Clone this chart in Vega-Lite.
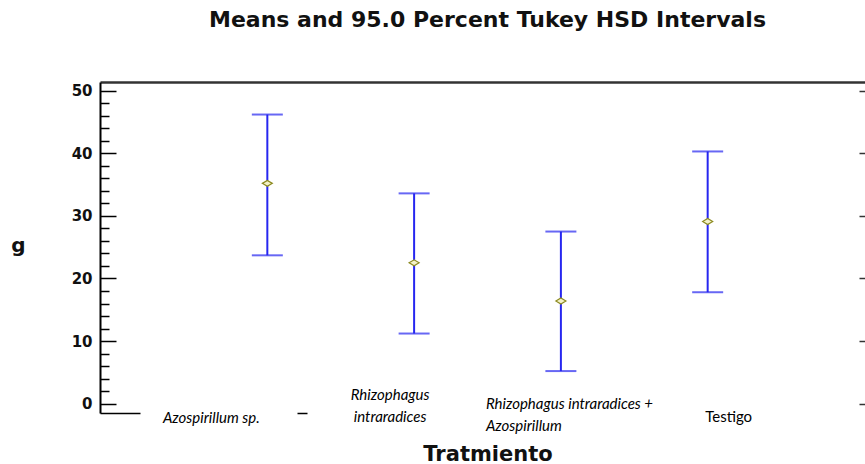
{
  "$schema": "https://vega.github.io/schema/vega-lite/v6.json",
  "width": 775,
  "height": 331,
  "autosize": {"type": "none"},
  "padding": {"left": 100, "top": 82, "right": 0, "bottom": 51},
  "background": "white",
  "config": {"view": {"stroke": null}},
  "title": {
    "text": "Means and 95.0 Percent Tukey HSD Intervals",
    "font": "DejaVu Sans",
    "fontSize": 22,
    "fontWeight": "bold",
    "color": "#111111",
    "anchor": "middle",
    "offset": 50
  },
  "data": {
    "values": [
      {"Tratamiento": "Azospirillum sp.", "media": 35.2, "inferior": 23.7, "superior": 46.2},
      {"Tratamiento": "Rhizophagus intraradices", "media": 22.5, "inferior": 11.2, "superior": 33.6},
      {"Tratamiento": "Rhizophagus intraradices + Azospirillum", "media": 16.4, "inferior": 5.2, "superior": 27.5},
      {"Tratamiento": "Testigo", "media": 29.1, "inferior": 17.8, "superior": 40.3}
    ]
  },
  "resolve": {"axis": {"x": "independent", "y": "independent"}},
  "layer": [
    {
      "mark": {"type": "rule", "color": "#2626f0", "strokeWidth": 2},
      "encoding": {
        "x": {
          "field": "Tratamiento", "type": "nominal", "sort": null,
          "scale": {"type": "band", "paddingInner": 0, "paddingOuter": 0.64},
          "axis": {
            "orient": "bottom",
            "title": "Tratmiento",
            "titleFont": "DejaVu Sans", "titleFontSize": 21, "titleFontWeight": "bold", "titleColor": "#111111",
            "titleY": 47, "titleBaseline": "alphabetic",
            "ticks": false,
            "domain": true, "domainColor": "#000000", "domainWidth": 1.5, "domainDash": [40, 157, 10, 2000],
            "grid": false,
            "labelExpr": "datum.value == 'Rhizophagus intraradices' ? ['Rhizophagus', 'intraradices'] : datum.value == 'Rhizophagus intraradices + Azospirillum' ? ['Rhizophagus intraradices +', 'Azospirillum'] : datum.value",
            "labelFont": "Lato", "labelFontSize": 15, "labelColor": "#000000",
            "labelAngle": 0, "labelLimit": 0, "labelOverlap": false, "labelLineHeight": 22,
            "labelBaseline": "middle",
            "labelFontStyle": {"condition": {"test": "datum.value === 'Testigo'", "value": "normal"}, "value": "italic"},
            "labelAlign": {"condition": {"test": "datum.value === 'Rhizophagus intraradices + Azospirillum'", "value": "left"}, "value": "center"},
            "labelOffset": {"condition": [
              {"test": "datum.value === 'Azospirillum sp.'", "value": -56},
              {"test": "datum.value === 'Rhizophagus intraradices'", "value": -24},
              {"test": "datum.value === 'Rhizophagus intraradices + Azospirillum'", "value": -75}
            ], "value": 21},
            "labelPadding": {"condition": [
              {"test": "datum.value === 'Azospirillum sp.'", "value": 4},
              {"test": "datum.value === 'Rhizophagus intraradices'", "value": -19},
              {"test": "datum.value === 'Rhizophagus intraradices + Azospirillum'", "value": -10}
            ], "value": 3}
          }
        },
        "y": {
          "field": "inferior", "type": "quantitative",
          "scale": {"domain": [-1.5, 51.4], "nice": false, "zero": false},
          "axis": {
            "orient": "left",
            "values": [0, 10, 20, 30, 40, 50],
            "tickSize": -16, "tickColor": "#000000", "tickWidth": 1.5,
            "labelFont": "DejaVu Sans", "labelFontSize": 15, "labelFontWeight": "bold", "labelColor": "#111111",
            "labelPadding": 24,
            "domain": true, "domainColor": "#000000", "domainWidth": 2,
            "grid": false,
            "title": "g", "titleAngle": 0, "titleFont": "DejaVu Sans", "titleFontSize": 20, "titleFontWeight": "bold", "titleColor": "#111111",
            "titleX": -82, "titleY": 163, "titleAlign": "center", "titleBaseline": "middle"
          }
        },
        "y2": {"field": "superior"}
      }
    },
    {
      "mark": {"type": "tick", "color": "#2626f0", "size": 31, "thickness": 2},
      "encoding": {
        "x": {
          "field": "Tratamiento", "type": "nominal", "sort": null,
          "scale": {"type": "band", "paddingInner": 0, "paddingOuter": 0.64},
          "axis": {"orient": "top", "labels": false, "ticks": false, "domain": true, "domainColor": "#333333", "domainWidth": 2.5, "title": null, "grid": false}
        },
        "y": {
          "field": "superior", "type": "quantitative",
          "axis": {"orient": "right", "values": [0, 10, 20, 30, 40, 50], "tickSize": -16, "tickColor": "#333333", "tickWidth": 1.5, "labels": false, "domain": true, "domainColor": "#333333", "domainWidth": 2, "title": null, "grid": false}
        }
      }
    },
    {
      "mark": {"type": "tick", "color": "#2626f0", "size": 31, "thickness": 2},
      "encoding": {
        "x": {"field": "Tratamiento", "type": "nominal", "sort": null, "scale": {"type": "band", "paddingInner": 0, "paddingOuter": 0.64}, "axis": null},
        "y": {
          "field": "inferior", "type": "quantitative",
          "axis": {"orient": "left", "values": [2, 4, 6, 8, 12, 14, 16, 18, 22, 24, 26, 28, 32, 34, 36, 38, 42, 44, 46, 48], "tickSize": -9, "tickColor": "#000000", "tickWidth": 1.5, "labels": false, "domain": false, "title": null, "grid": false}
        }
      }
    },
    {
      "mark": {"type": "point", "shape": "M-1,0L0,-0.6L1,0L0,0.6Z", "size": 100, "filled": true, "fill": "#f4f2c8", "stroke": "#8c8a20", "strokeWidth": 1.2, "opacity": 1},
      "encoding": {
        "x": {"field": "Tratamiento", "type": "nominal", "sort": null, "scale": {"type": "band", "paddingInner": 0, "paddingOuter": 0.64}, "axis": null},
        "y": {
          "field": "media", "type": "quantitative",
          "axis": {"orient": "right", "values": [2, 4, 6, 8, 12, 14, 16, 18, 22, 24, 26, 28, 32, 34, 36, 38, 42, 44, 46, 48], "tickSize": -9, "tickColor": "#333333", "tickWidth": 1.5, "labels": false, "domain": false, "title": null, "grid": false}
        }
      }
    }
  ]
}
